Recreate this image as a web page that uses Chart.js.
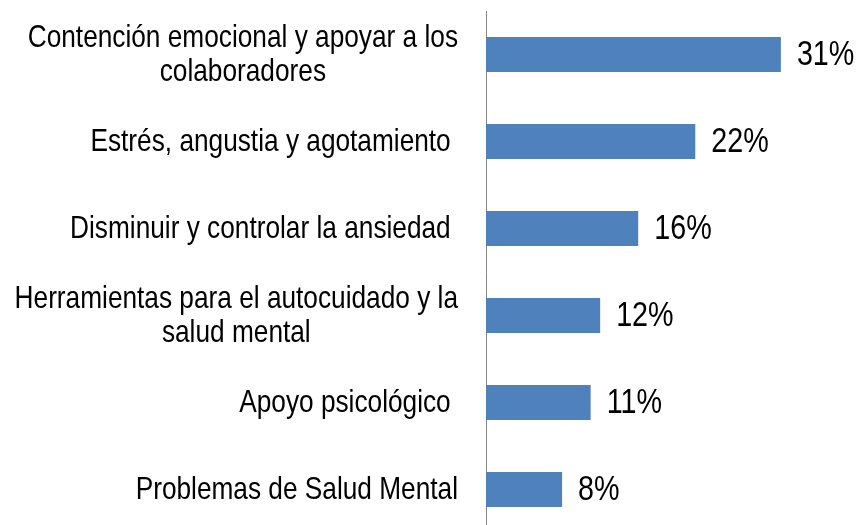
<!DOCTYPE html>
<html>
<head>
<meta charset="utf-8">
<script src="https://cdn.jsdelivr.net/npm/chart.js@4/dist/chart.umd.min.js"></script>
<style>
html, body { margin: 0; padding: 0; background: #fff; overflow: hidden; }
</style>
</head>
<body>
<canvas id="temasChart" width="864" height="533"></canvas>
<script>
// categorias (cada una en lineas) y porcentajes
var temas = [
    ["Contención emocional y apoyar a los", "colaboradores"],
    ["Estrés, angustia y agotamiento "],
    ["Disminuir y controlar la ansiedad "],
    ["Herramientas para el autocuidado y la", "salud mental"],
    ["Apoyo psicológico "],
    ["Problemas de Salud Mental"]
];
var porcentajes = [31, 22, 16, 12, 11, 8];

var fuente = '"Liberation Sans", Arial, sans-serif';
var estrecho = 0.82; // el original usa una letra angosta tipo Arial Narrow

// texto angosto: escala horizontal
function textoAngosto(ctx, texto, x, y, alinear) {
    var w = ctx.measureText(texto).width * estrecho;
    var x0 = alinear === 'center' ? x - w / 2 : x;
    ctx.save();
    ctx.translate(x0, y);
    ctx.scale(estrecho, 1);
    ctx.textAlign = 'left';
    ctx.fillText(texto, 0, 0);
    ctx.restore();
}

// dibuja los textos de categorias y los valores
var etiquetas = {
    id: 'etiquetas',
    afterDatasetsDraw: function(chart) {
        var ctx = chart.ctx;
        var yScale = chart.scales.y;
        var meta = chart.getDatasetMeta(0);
        ctx.save();
        ctx.fillStyle = '#000';
        ctx.textBaseline = 'middle';

        ctx.font = '32px ' + fuente;
        temas.forEach(function(lineas, i) {
            var y = yScale.getPixelForTick(i) + 1;
            var ancho = Math.max.apply(null, lineas.map(function(l) { return ctx.measureText(l).width * estrecho; }));
            var centro = chart.chartArea.left - 28 - ancho / 2;
            lineas.forEach(function(l, j) {
                textoAngosto(ctx, l, centro, y + (j - (lineas.length - 1) / 2) * 34, 'center');
            });
        });

        ctx.font = '35px ' + fuente;
        meta.data.forEach(function(bar, i) {
            textoAngosto(ctx, porcentajes[i] + '%', bar.x + 16, bar.y + 1, 'left');
        });
        ctx.restore();
    }
};

var temasCanvas = document.getElementById("temasChart");

var temasData = {
    labels: temas,
    datasets: [{
        data: porcentajes,
        backgroundColor: "#4F81BD",
        borderWidth: 0,
        categoryPercentage: 1,
        barPercentage: 0.4
    }]
};

var temasChart = new Chart(temasCanvas, {
    type: 'bar',
    data: temasData,
    options: {
        indexAxis: 'y',
        responsive: false,
        animation: false,
        layout: { padding: { left: 486, top: 11, right: 7, bottom: 0 } },
        plugins: {
            legend: { display: false },
            tooltip: { enabled: false }
        },
        scales: {
            x: { display: false, min: 0, max: 39 },
            y: {
                ticks: { display: false },
                grid: { display: false, drawTicks: false },
                border: { display: true, color: '#868686', width: 1 }
            }
        }
    },
    plugins: [etiquetas]
});
</script>
</body>
</html>
